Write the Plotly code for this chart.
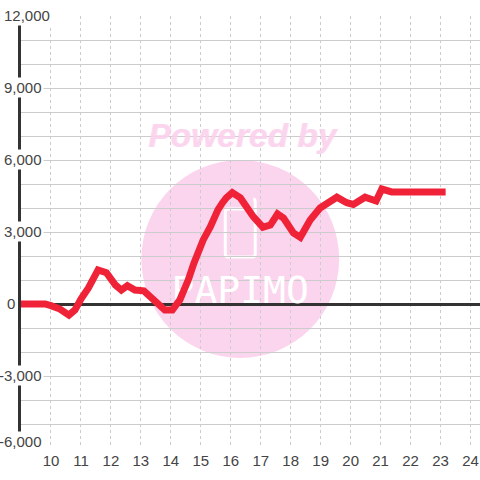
import plotly.graph_objects as go

hours = [8.9, 9.8, 10.0, 10.3, 10.6, 10.8, 11.0, 11.25, 11.57, 11.85, 12.15, 12.35, 12.55, 12.8, 13.1, 13.8, 14.05,
         14.3, 14.58, 14.77, 15.08, 15.32, 15.57, 15.72, 15.85, 16.05, 16.32, 16.75, 17.07, 17.32, 17.56, 17.76, 18.09,
         18.32, 18.65, 18.98, 19.54, 19.87, 20.09, 20.48, 20.85, 21.04, 21.37, 23.17]
values = [0, 0, -70, -210, -460, -250, 210, 670, 1420, 1300, 790, 580, 760, 580, 550, -250, -250,
          170, 1000, 1700, 2670, 3220, 3920, 4210, 4420, 4640, 4420, 3640, 3200, 3290, 3750, 3580, 2960,
          2780, 3500, 4000, 4450, 4220, 4150, 4450, 4290, 4790, 4670, 4670]
x_ticks = list(range(10, 25))
y_ticks = [12000, 9000, 6000, 3000, 0, -3000, -6000]
y_labels = ["12,000", "9,000", "6,000", "3,000", "0", "-3,000", "-6,000"]
y_label_right = [51, 43.5, 43.5, 43.5, 16, 43.5, 43.5]
y_label_lift = [1, 1, 1, 1, 1, 1, 7]

LEFT, TOP, BOTTOM = 20.5, 16, 448


def px(p):
    return (p - 50.5) / 30 + 10


def py(p):
    return (304 - p) * 1000 / 24


fig = go.Figure()
fig.add_trace(go.Scatter(x=[px(240)], y=[py(293)], mode="text", text=["PAPIMO"], hoverinfo="skip",
                         textfont=dict(family="DejaVu Sans Mono", size=38, color="white"),
                         textposition="middle center", showlegend=False))
fig.add_trace(go.Scatter(x=hours, y=values, mode="lines", showlegend=False, cliponaxis=False,
                         line=dict(color="#f02238", width=7, simplify=False)))

fig.add_shape(type="circle", layer="below", x0=px(141), x1=px(339), y0=py(358), y1=py(160),
              fillcolor="#fbd5ee", line_width=0)
icon = (f"M {px(250)} {py(209)} L {px(228)} {py(209)} Q {px(225)} {py(209)} {px(225)} {py(212)} "
        f"L {px(225)} {py(254)} Q {px(225)} {py(257)} {px(228)} {py(257)} "
        f"L {px(252)} {py(257)} Q {px(255)} {py(257)} {px(255)} {py(254)} L {px(255)} {py(202)} "
        f"Q {px(255)} {py(199)} {px(253)} {py(199)}")
fig.add_shape(type="path", layer="below", path=icon, line=dict(color="white", width=3))

for v, t, r, lift in zip(y_ticks, y_labels, y_label_right, y_label_lift):
    fig.add_annotation(xref="paper", yref="y", x=0, y=v, xanchor="right", yanchor="middle",
                       xshift=r - LEFT, yshift=lift, text=t, showarrow=False, bgcolor="white", borderpad=1,
                       font=dict(family="Liberation Sans", size=15, color="#444444"))
pink = "rgba(251,210,237,0.8)"
fig.add_annotation(xref="x", yref="y", x=px(242.5), y=py(135), text="<b><i>Powered by</i></b>", showarrow=False,
                   font=dict(family="Liberation Sans", size=33.5, color=pink,
                             shadow=f"1px 0 0 {pink}"))

fig.update_layout(
    width=480, height=480, autosize=False,
    margin=dict(l=LEFT, r=0, t=TOP, b=480 - BOTTOM, pad=0),
    paper_bgcolor="white", plot_bgcolor="rgba(0,0,0,0)",
    font=dict(family="Liberation Sans", size=15, color="#444444"),
    hovermode=False,
    xaxis=dict(range=[px(LEFT), px(480)], tickvals=x_ticks, ticktext=[str(v) for v in x_ticks],
               showgrid=True, griddash="3px,3px", gridcolor="#cccccc", gridwidth=1,
               zeroline=False, showline=False, ticks="", automargin=False, ticklabelstandoff=2,
               tickfont=dict(family="Liberation Sans", size=15, color="#444444")),
    yaxis=dict(range=[-6000, 12000], dtick=1000, tick0=0, showticklabels=False, showgrid=True,
               gridcolor="#cccccc", gridwidth=1, zeroline=True, zerolinecolor="#333333", zerolinewidth=3,
               showline=True, linecolor="#333333", linewidth=3, ticks="", automargin=False),
)
fig.write_html("out.html", post_script="document.body.style.margin='0';", config={"displayModeBar": False})
